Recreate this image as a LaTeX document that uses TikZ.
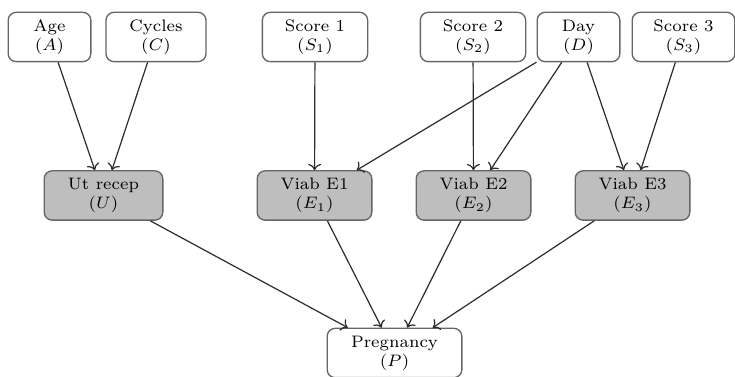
\documentclass[tikz,border=0pt]{standalone}
\usepackage{amsmath}
\usepackage{graphicx}
\usepackage{tikz}
\usetikzlibrary{arrows.meta}
\definecolor{NetInk}{HTML}{2B2B2B}
\definecolor{NetEdge}{HTML}{666666}
\definecolor{NetFill}{HTML}{BEBEBE}
\newcommand{\varlabel}[2]{\scalebox{1.78}{\scriptsize\begin{tabular}{@{}c@{}}#1\\$(#2)$\end{tabular}}}

\begin{document}
\begin{tikzpicture}[x=0.75pt,y=-0.75pt,>={To[scale=1.3]}]
  \tikzset{
    var/.style={draw=NetEdge,rounded corners=6pt,minimum height=37pt,inner sep=0pt,
      align=center,line width=1pt,fill=white},
    latent/.style={var,fill=NetFill},
    link/.style={->,line width=.9pt,draw=NetInk}
  }
  \useasboundingbox (0,0) rectangle (735,377);
  % observed inputs
  \node[var,minimum width=62pt] (age) at (49.5,37) {\varlabel{Age}{A}};
  \node[var,minimum width=75pt] (cyc) at (156,37) {\varlabel{Cycles}{C}};
  \node[var,minimum width=79pt] (s1) at (315,37) {\varlabel{Score 1}{S_1}};
  \node[var,minimum width=79pt] (s2) at (473,37) {\varlabel{Score 2}{S_2}};
  \node[var,minimum width=62pt] (day) at (578.5,37) {\varlabel{Day}{D}};
  \node[var,minimum width=77pt] (s3) at (683.5,37) {\varlabel{Score 3}{S_3}};
  % hidden layer
  \node[latent,minimum width=89pt] (ut) at (103.5,195.5) {\varlabel{Ut recep}{U}};
  \node[latent,minimum width=86pt] (e1) at (314.5,195.5) {\varlabel{Viab E1}{E_1}};
  \node[latent,minimum width=86pt] (e2) at (473.5,195.5) {\varlabel{Viab E2}{E_2}};
  \node[latent,minimum width=86pt] (e3) at (632.5,195.5) {\varlabel{Viab E3}{E_3}};
  % outcome
  \node[var,minimum width=101pt] (preg) at (394.5,353) {\varlabel{Pregnancy}{P}};
  \draw[link] (age) -- (ut);
  \draw[link] (cyc) -- (ut);
  \draw[link] (s1) -- (e1);
  \draw[link] (day) -- (e1);
  \draw[link] (s2) -- (e2);
  \draw[link] (day) -- (e2);
  \draw[link] (day) -- (e3);
  \draw[link] (s3) -- (e3);
  \foreach \src in {ut,e1,e2,e3}
    \draw[link] (\src) -- (preg);
\end{tikzpicture}
\end{document}
